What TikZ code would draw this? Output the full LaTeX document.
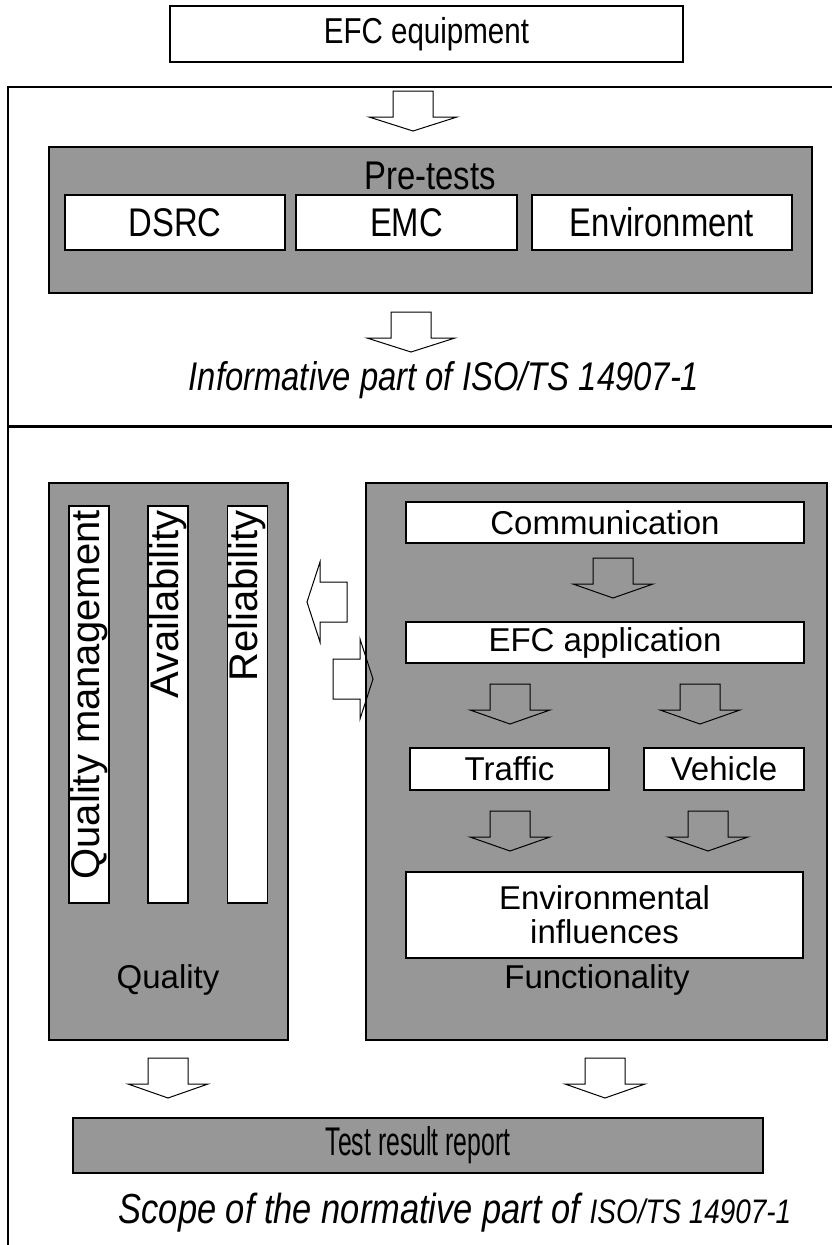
\documentclass[tikz,border=0pt]{standalone}
\usepackage{fontspec}
\setmainfont{Liberation Sans}
\newfontfamily\narrowfont[FakeStretch=0.82]{Liberation Sans}
\newfontfamily\condfont[FakeStretch=0.62]{Liberation Sans}
\usetikzlibrary{positioning}

\definecolor{boxgray}{RGB}{150,151,150}

% hollow block arrows, #1 = top (or back) centre, #2 = half width of the head
\newcommand{\downblock}[2]{%
  \draw[blockarrow] (#1) ++(-20,0) -- ++(0,26) -- ++({-(#2-20)},0) -- ++(#2,14)
    -- ++(#2,-14) -- ++({-(#2-20)},0) -- ++(0,-26) -- cycle;}
\newcommand{\leftblock}[1]{%
  \draw[blockarrow] (#1) ++(0,-20) -- ++(-27,0) -- ++(0,-20) -- ++(-13,40)
    -- ++(13,40) -- ++(0,-20) -- ++(27,0) -- cycle;}
\newcommand{\rightblock}[1]{%
  \draw[blockarrow] (#1) ++(0,-20) -- ++(27,0) -- ++(0,-20) -- ++(13,40)
    -- ++(-13,40) -- ++(0,-20) -- ++(-27,0) -- cycle;}

\begin{document}
\begin{tikzpicture}[
        x=1pt, y=-1pt,
        blockarrow/.style={draw, line width=1pt},
        gbox/.style={draw, fill=boxgray, line width=1.8pt, inner sep=0pt}, % grey panels
        wbox/.style={draw, fill=white, line width=1.8pt, inner sep=0pt, align=center,
            font=\fontsize{33}{38}\selectfont},
        nbox/.style={wbox, font=\narrowfont\fontsize{40}{44}\selectfont},
        lbl/.style={inner sep=0pt, font=\fontsize{33}{38}\selectfont},
        vlbl/.style={inner sep=0pt, rotate=90, anchor=east, font=\fontsize{40}{44}\selectfont},
    ]
    \useasboundingbox (0,0) rectangle (831,1245);

    % informative part
    \node[nbox, font=\narrowfont\fontsize{36}{40}\selectfont, minimum width=513, minimum height=56]
        (equip) at (426.5,34) {EFC equipment};
    \draw[line width=2pt] (8,1250) -- (8,87) -- (840,87);
    \draw[line width=3pt] (8,426) -- (840,426);

    \coordinate (a1) at (413,91);
    \downblock{a1}{44}

    \node[gbox, minimum width=763, minimum height=146] (pre) at (430.5,220) {};
    \node[lbl, font=\narrowfont\fontsize{40}{44}\selectfont] (pretitle) at (430,176) {Pre-tests};
    \node[nbox, minimum width=220, minimum height=55] (dsrc) at (175,222.5) {DSRC};
    \node[nbox, minimum width=221, minimum height=55] (emc) at (406.5,222.5) {EMC};
    \node[nbox, minimum width=260, minimum height=55] (environ) at (662,222.5) {Environment};

    \coordinate (a2) at (411,312);
    \downblock{a2}{44}

    \node[lbl, font=\narrowfont\itshape\fontsize{40}{44}\selectfont] (informative) at (444,380)
        {Informative part of ISO/TS 14907-1};

    % normative part
    \node[gbox, minimum width=239, minimum height=557] (quality) at (168.5,761.5) {};
    \node[wbox, minimum width=40, minimum height=397] (qm) at (89,704.5) {};
    \node[wbox, minimum width=40, minimum height=397] (avail) at (168,704.5) {};
    \node[wbox, minimum width=40, minimum height=397] (relia) at (247.5,704.5) {};
    \node[vlbl] at ([yshift=-5pt]qm.north) {Quality management};
    \node[vlbl] at ([yshift=-5pt]avail.north) {Availability};
    \node[vlbl] at ([yshift=-5pt]relia.north) {Reliability};
    \node[lbl] (qualitytitle) at (168,980) {Quality};

    \node[gbox, minimum width=461, minimum height=557] (func) at (596.5,761.5) {};
    \node[wbox, minimum width=398, minimum height=41] (comm) at (605,522.5) {Communication};
    \node[wbox, minimum width=398, minimum height=41] (efcapp) at (605,642.5) {EFC application};
    \node[wbox, minimum width=199, minimum height=42] (traffic) at (509.5,769) {Traffic};
    \node[wbox, minimum width=160, minimum height=42] (vehicle) at (724,769) {Vehicle};
    \node[wbox, minimum width=397, minimum height=86] (envinf) at (604.5,915)
        {Environmental\\[-4pt]influences};
    \node[lbl] (functitle) at (597,980) {Functionality};

    \coordinate (a3) at (613,558);
    \downblock{a3}{40}
    \coordinate (a4) at (510,684);
    \downblock{a4}{40}
    \coordinate (a5) at (700,684);
    \downblock{a5}{40}
    \coordinate (a6) at (510,811);
    \downblock{a6}{40}
    \coordinate (a7) at (708,811);
    \downblock{a7}{40}

    \coordinate (l1) at (347,602);
    \leftblock{l1}
    \coordinate (r1) at (333,679);
    \rightblock{r1}

    \coordinate (b1) at (168,1058);
    \downblock{b1}{40}
    \coordinate (b2) at (605,1058);
    \downblock{b2}{40}

    \node[gbox, font=\condfont\fontsize{40}{44}\selectfont, minimum width=690, minimum height=55]
        (report) at (418,1145.5) {Test result report};
    \node[lbl, font=\narrowfont\itshape\fontsize{42}{46}\selectfont] (scope) at (455,1213)
        {Scope of the normative part of {\fontsize{34}{38}\selectfont ISO/TS 14907-1}};
\end{tikzpicture}
\end{document}
